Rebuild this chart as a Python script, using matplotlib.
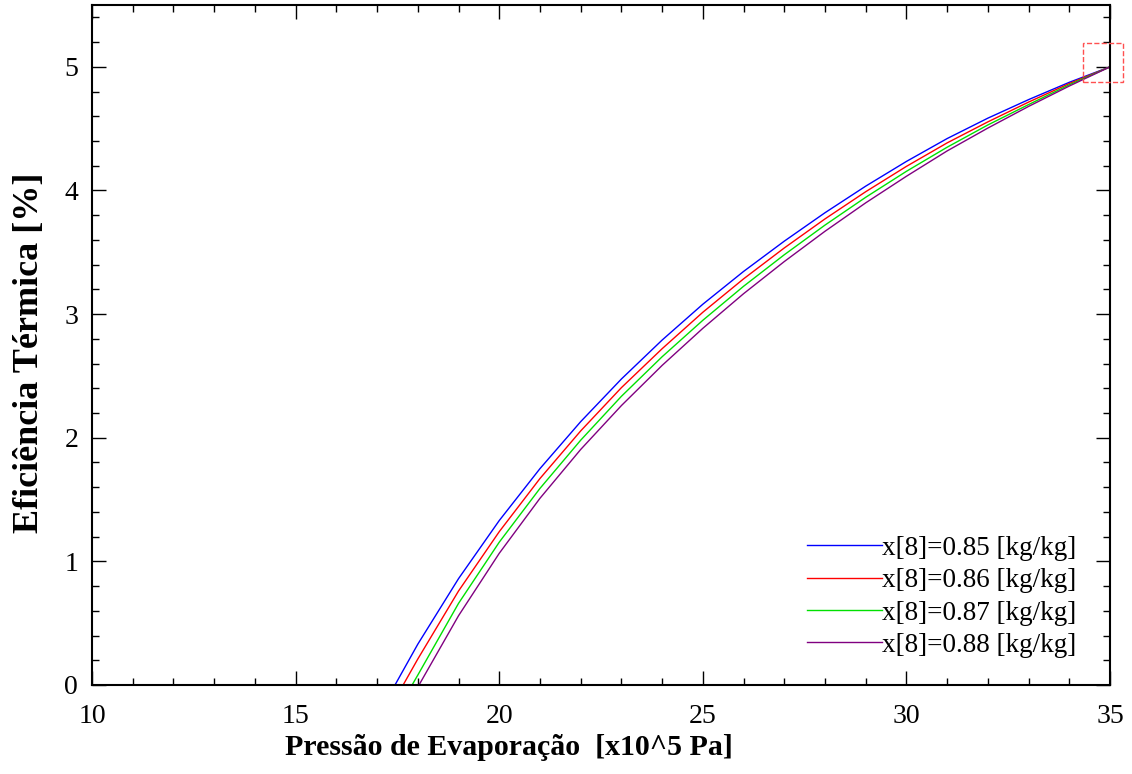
import matplotlib
matplotlib.use('Agg')
import matplotlib.pyplot as plt
from matplotlib.patches import Rectangle
from matplotlib.ticker import MultipleLocator

plt.rcParams['font.family'] = ['Liberation Serif', 'DejaVu Serif']

# dados (pressão em x10^5 Pa, eficiência em %)
p_085 = [17.44, 18, 19, 20, 21, 22, 23, 24, 25, 26, 27, 28, 29, 30, 31, 32, 33, 34, 35]
ef_085 = [0.0, 0.33, 0.86, 1.33, 1.75, 2.13, 2.475, 2.79, 3.08, 3.345, 3.59, 3.82, 4.035, 4.235, 4.42, 4.585, 4.735, 4.875, 5.0]

p_086 = [17.64, 18, 19, 20, 21, 22, 23, 24, 25, 26, 27, 28, 29, 30, 31, 32, 33, 34, 35]
ef_086 = [0.0, 0.21, 0.76, 1.24, 1.67, 2.055, 2.405, 2.72, 3.015, 3.285, 3.535, 3.77, 3.99, 4.195, 4.385, 4.555, 4.715, 4.865, 5.0]

p_087 = [17.86, 18, 19, 20, 21, 22, 23, 24, 25, 26, 27, 28, 29, 30, 31, 32, 33, 34, 35]
ef_087 = [0.0, 0.08, 0.66, 1.155, 1.59, 1.98, 2.335, 2.655, 2.95, 3.225, 3.48, 3.72, 3.945, 4.155, 4.35, 4.53, 4.695, 4.855, 5.0]

p_088 = [18.03, 19, 20, 21, 22, 23, 24, 25, 26, 27, 28, 29, 30, 31, 32, 33, 34, 35]
ef_088 = [0.0, 0.56, 1.065, 1.51, 1.905, 2.26, 2.585, 2.885, 3.165, 3.425, 3.67, 3.90, 4.115, 4.32, 4.505, 4.68, 4.845, 5.0]

labels = ['x[8]=0.85 [kg/kg]', 'x[8]=0.86 [kg/kg]', 'x[8]=0.87 [kg/kg]', 'x[8]=0.88 [kg/kg]']
colors = ['#0000ff', '#ff0000', '#00e000', '#800080']

fig = plt.figure(figsize=(11.32, 7.74), dpi=100)
ax = fig.add_axes([0.0813, 0.115, 0.8993, 0.8785])

series = [(p_085, ef_085), (p_086, ef_086), (p_087, ef_087), (p_088, ef_088)]
for (x, y), c, lab in zip(series, colors, labels):
    ax.plot(x, y, color=c, lw=1.0, label=lab)

ax.set_xlim(10, 35)
ax.set_ylim(0, 5.5)
ax.xaxis.set_major_locator(MultipleLocator(5))
ax.xaxis.set_minor_locator(MultipleLocator(1))
ax.yaxis.set_major_locator(MultipleLocator(1))
ax.yaxis.set_minor_locator(MultipleLocator(0.2))
ax.tick_params(which='both', direction='in', top=True, right=True, labelsize=20)
ax.tick_params(which='major', length=10, width=1)
ax.tick_params(which='minor', length=5, width=1)
ax.tick_params(axis='x', pad=14)
ax.tick_params(axis='y', pad=10)
for s in ax.spines.values():
    s.set_linewidth(1.5)

ax.set_xlabel('Pressão de Evaporação  [x10^5 Pa]', fontsize=21.5, fontweight='bold')
ax.set_ylabel('Eficiência Térmica [%]', fontsize=26, fontweight='bold')
ax.xaxis.set_label_coords(0.41, -0.072, transform=ax.transAxes)
ax.yaxis.set_label_coords(-0.045, 0.488, transform=ax.transAxes)

leg = ax.legend(loc='lower right', bbox_to_anchor=(0.977, 0.024), frameon=False, fontsize=19.5,
                handlelength=2.75, handletextpad=0.0, labelspacing=0.27, borderaxespad=0.0)

# caixa tracejada de zoom (artefato do EES)
fig.patches.append(Rectangle((0.9567, 0.894), 0.0353, 0.0504, transform=fig.transFigure,
                             fill=False, edgecolor='#ff5050', ls='--', lw=1.0))

fig.savefig('out.png', dpi=100)
